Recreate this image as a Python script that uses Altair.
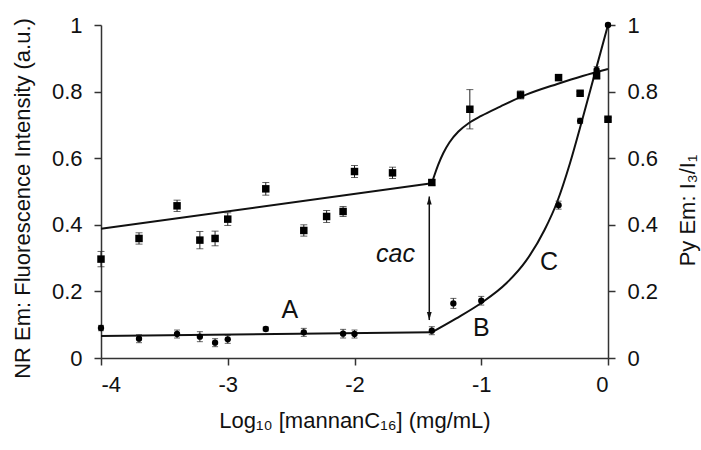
import altair as alt
import pandas as pd

# Nile Red emission, left axis (mean and error half-width)
nr_x = [-4.00, -3.70, -3.40, -3.22, -3.10, -3.00, -2.70, -2.40, -2.22, -2.09,
        -2.00, -1.70, -1.39, -1.09, -0.69, -0.39, -0.22, -0.09, 0.00]
nr_y = [0.297, 0.359, 0.457, 0.354, 0.359, 0.417, 0.508, 0.383, 0.425, 0.440,
        0.560, 0.556, 0.527, 0.747, 0.790, 0.842, 0.795, 0.848, 0.717]
nr_err = [0.023, 0.017, 0.017, 0.026, 0.022, 0.019, 0.019, 0.017, 0.018, 0.015,
          0.018, 0.017, 0.008, 0.059, 0.012, 0.008, 0.005, 0.010, 0.005]

# Pyrene I3/I1 ratio, right axis
py_x = [-4.00, -3.70, -3.40, -3.22, -3.10, -3.00, -2.70, -2.40, -2.09, -2.00,
        -1.39, -1.22, -1.00, -0.39, -0.22, -0.09, 0.00]
py_y = [0.090, 0.058, 0.072, 0.064, 0.046, 0.056, 0.087, 0.077, 0.073, 0.072,
        0.082, 0.164, 0.172, 0.459, 0.712, 0.865, 1.000]
py_err = [0.008, 0.012, 0.012, 0.015, 0.012, 0.012, 0.006, 0.012, 0.013, 0.012,
          0.012, 0.015, 0.013, 0.012, 0.008, 0.010, 0.005]

# Trend lines: straight pre-cac segments and the curved post-cac segments
nr_lin_x = [-4.00, -1.39]
nr_lin_y = [0.388, 0.525]
nr_curve_x = [-1.39, -1.37, -1.34, -1.30, -1.25, -1.18, -1.10, -1.00, -0.85,
              -0.65, -0.40, -0.20, 0.00]
nr_curve_y = [0.525, 0.548, 0.580, 0.615, 0.648, 0.680, 0.705, 0.727, 0.755,
              0.790, 0.823, 0.847, 0.868]
py_lin_x = [-4.00, -1.39]
py_lin_y = [0.066, 0.077]
py_curve_x = [-1.39, -1.20, -1.00, -0.80, -0.65, -0.50, -0.40, -0.30, -0.20,
              -0.10, 0.00]
py_curve_y = [0.077, 0.118, 0.165, 0.225, 0.290, 0.385, 0.470, 0.585, 0.720,
              0.860, 1.000]

# cac double arrow and region labels
cac_x = [-1.41]
cac_top = [0.485]
cac_bottom = [0.114]
region_text = ["A", "B", "C"]
region_x = [-2.51, -1.00, -0.465]
region_y = [0.144, 0.089, 0.289]
cac_label = ["cac"]
cac_label_x = [-1.676]
cac_label_y = [0.312]

x_ticks = [-4, -3, -2, -1, 0]
y_ticks = [0, 0.2, 0.4, 0.6, 0.8, 1]

FONT = "Liberation Sans"
INK = "#111111"
AXIS_INK = "#333333"
W, H = 507, 333

nr = pd.DataFrame({"x": nr_x, "y": nr_y,
                   "lo": [a - e for a, e in zip(nr_y, nr_err)],
                   "hi": [a + e for a, e in zip(nr_y, nr_err)]})
py = pd.DataFrame({"x": py_x, "y": py_y,
                   "lo": [a - e for a, e in zip(py_y, py_err)],
                   "hi": [a + e for a, e in zip(py_y, py_err)]})
nr_lin = pd.DataFrame({"x": nr_lin_x, "y": nr_lin_y})
nr_curve = pd.DataFrame({"x": nr_curve_x, "y": nr_curve_y})
py_lin = pd.DataFrame({"x": py_lin_x, "y": py_lin_y})
py_curve = pd.DataFrame({"x": py_curve_x, "y": py_curve_y})
arrow = pd.DataFrame({"x": cac_x, "top": cac_top, "bottom": cac_bottom})
regions = pd.DataFrame({"t": region_text, "x": region_x, "y": region_y})
cac_df = pd.DataFrame({"t": cac_label, "x": cac_label_x, "y": cac_label_y})

xscale = alt.Scale(domain=[-4, 0], nice=False, zero=False)
yscale = alt.Scale(domain=[0, 1], nice=False, zero=False)

axis_common = dict(
    grid=False, tickSize=7, tickWidth=1.5, tickColor=AXIS_INK,
    domainColor=AXIS_INK, domainWidth=1.5,
    labelFont=FONT, labelFontSize=22, labelColor=INK,
    titleFont=FONT, titleFontSize=22, titleColor=INK, titleFontWeight="normal",
)

x_enc = alt.X("x:Q", scale=xscale, axis=alt.Axis(
    values=x_ticks, labelExpr="'' + datum.value",
    title="Log₁₀ [mannanC₁₆] (mg/mL)", labelPadding=9,
    titleX=W / 2, titleY=62, titleAlign="center", titleBaseline="middle",
    **axis_common))

left_axis = alt.Axis(
    values=y_ticks, labelExpr="'' + datum.value", orient="left",
    title="NR Em: Fluorescence Intensity (a.u.)", labelPadding=12,
    titleAngle=270, titleX=-79, titleY=173, titleAlign="center",
    titleBaseline="middle", **axis_common)
right_axis = alt.Axis(
    values=y_ticks, labelExpr="'' + datum.value", orient="right",
    title="Py Em: I₃/I₁", labelPadding=12,
    titleAngle=270, titleX=79, titleY=185, titleAlign="center",
    titleBaseline="middle", **axis_common)


def y_enc(field, axis=None):
    return alt.Y(field, type="quantitative", scale=yscale, axis=axis)


line_style = dict(color="#111111", strokeWidth=2)

nr_lin_layer = alt.Chart(nr_lin).mark_line(**line_style).encode(x=x_enc, y=y_enc("y"))
nr_curve_layer = alt.Chart(nr_curve).mark_line(interpolate="monotone", **line_style).encode(
    x=x_enc, y=y_enc("y"))
py_lin_layer = alt.Chart(py_lin).mark_line(**line_style).encode(x=x_enc, y=y_enc("y"))
py_curve_layer = alt.Chart(py_curve).mark_line(interpolate="monotone", **line_style).encode(
    x=x_enc, y=y_enc("y"))


def error_layers(df, cap):
    bars = alt.Chart(df).mark_rule(color="#222222", strokeWidth=1).encode(
        x=x_enc, y=y_enc("lo"), y2="hi")
    cap_lo = alt.Chart(df).mark_tick(orient="horizontal", size=cap, thickness=1,
                                     color="#222222").encode(x=x_enc, y=y_enc("lo"))
    cap_hi = alt.Chart(df).mark_tick(orient="horizontal", size=cap, thickness=1,
                                     color="#222222").encode(x=x_enc, y=y_enc("hi"))
    return [bars, cap_lo, cap_hi]


nr_points = alt.Chart(nr).mark_point(shape="square", filled=True, size=56,
                                     color="#000000", opacity=1).encode(
    x=x_enc, y=y_enc("y", left_axis))
py_points = alt.Chart(py).mark_point(shape="circle", filled=True, size=40,
                                     color="#000000", opacity=1).encode(
    x=x_enc, y=y_enc("y", right_axis))

arrow_shaft = alt.Chart(arrow).mark_rule(color="#111111", strokeWidth=1.5).encode(
    x=x_enc, y=y_enc("top"), y2="bottom")
arrow_up = alt.Chart(arrow).mark_point(
    shape="M0,-1L0.6,1L-0.6,1Z", filled=True, size=64, color="#111111",
    opacity=1, yOffset=4).encode(x=x_enc, y=y_enc("top"))
arrow_down = alt.Chart(arrow).mark_point(
    shape="M0,1L0.6,-1L-0.6,-1Z", filled=True, size=64, color="#111111",
    opacity=1, yOffset=-4).encode(x=x_enc, y=y_enc("bottom"))

region_labels = alt.Chart(regions).mark_text(
    font=FONT, fontSize=25, color=INK, align="center", baseline="middle").encode(
    x=x_enc, y=y_enc("y"), text="t:N")
cac_text = alt.Chart(cac_df).mark_text(
    font=FONT, fontSize=25, fontStyle="italic", color=INK, align="center",
    baseline="middle").encode(x=x_enc, y=y_enc("y"), text="t:N")

layers = [nr_lin_layer, nr_curve_layer, py_lin_layer, py_curve_layer]
layers += error_layers(nr, 7) + error_layers(py, 6)
layers += [arrow_shaft, arrow_up, arrow_down, region_labels, cac_text,
           nr_points, py_points]

chart = alt.layer(*layers).resolve_scale(y="independent").properties(
    width=W, height=H,
    autosize=alt.AutoSizeParams(type="none"),
    padding={"left": 101, "top": 25, "right": 701 - 101 - W, "bottom": 450 - 25 - H},
    background="white",
).configure_view(stroke=None)

chart.save("out.html", embed_options={"renderer": "svg", "actions": False})
